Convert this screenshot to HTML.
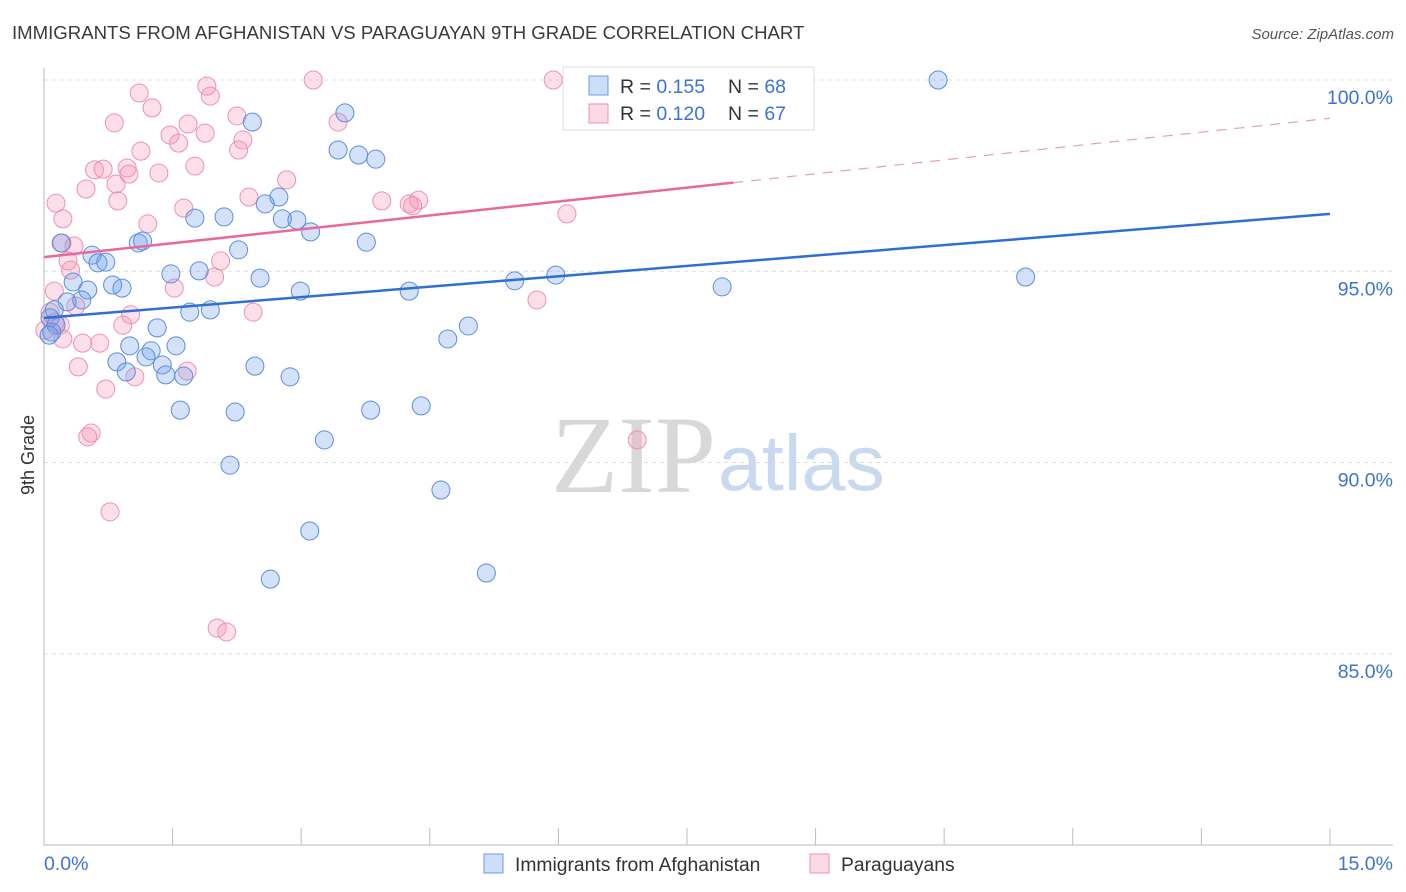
<!DOCTYPE html>
<html><head><meta charset="utf-8">
<style>
body{margin:0;background:#fff;font-family:"Liberation Sans",sans-serif;}
#wrap{position:relative;width:1406px;height:892px;overflow:hidden;}
</style></head>
<body>
<div id="wrap">
<svg id="svg" width="1406" height="892" xmlns="http://www.w3.org/2000/svg">
<text x="12" y="39" font-size="18.6" fill="#3a3a3a">IMMIGRANTS FROM AFGHANISTAN VS PARAGUAYAN 9TH GRADE CORRELATION CHART</text>
<text x="1394" y="39" font-size="15" fill="#555" font-style="italic" text-anchor="end">Source: ZipAtlas.com</text>
<text x="716" y="492" font-size="110" fill="#d8d8d8" font-family="Liberation Serif,serif" text-anchor="end">ZIP</text>
<text x="718" y="490" font-size="79" fill="#c9d9f0" text-anchor="start">atlas</text>
<g id="grid"></g>
<g id="axes"></g>
<g id="pts"></g>
<g id="trends"></g>
<text x="34" y="455" font-size="18" fill="#333" transform="rotate(-90 34 455)" text-anchor="middle">9th Grade</text>
<g>
<rect x="563" y="67" width="251" height="63" fill="#fff" stroke="#ddd"/>
<rect x="589" y="76" width="19" height="19" fill="rgba(110,160,235,0.35)" stroke="#6a9be0"/>
<text x="620" y="93" font-size="19.5" fill="#333">R = <tspan fill="#3b73d6">0.155</tspan></text>
<text x="728" y="93" font-size="19.5" fill="#333">N = <tspan fill="#3b73d6">68</tspan></text>
<rect x="589" y="104" width="19" height="19" fill="rgba(245,150,180,0.35)" stroke="#ec92b0"/>
<text x="620" y="120" font-size="19.5" fill="#333">R = <tspan fill="#3b73d6">0.120</tspan></text>
<text x="728" y="120" font-size="19.5" fill="#333">N = <tspan fill="#3b73d6">67</tspan></text>
</g>
<g>
<rect x="484" y="854" width="19" height="19" fill="rgba(110,160,235,0.35)" stroke="#6a9be0"/>
<text x="515" y="871" font-size="19.3" fill="#333">Immigrants from Afghanistan</text>
<rect x="810" y="854" width="19" height="19" fill="rgba(245,150,180,0.35)" stroke="#ec92b0"/>
<text x="841" y="871" font-size="19.3" fill="#333">Paraguayans</text>
</g>
</svg>
</div>
<script>
const blueX=[6.87,10.43,2.43,3.51,3.43,3.67,3.87,2.74,2.58,1.76,2.10,2.78,2.95,3.11,2.27,3.76,1.10,1.15,0.20,0.56,0.63,0.72,1.48,1.81,2.52,5.49,5.97,11.45,7.91,4.26,2.99,0.80,0.91,0.34,0.51,0.27,0.44,0.12,0.07,0.14,0.09,1.70,1.94,1.32,1.00,1.54,4.95,4.71,1.25,1.19,1.38,0.85,0.96,1.42,1.63,2.46,2.87,1.59,2.23,3.81,4.40,3.27,2.17,4.63,3.10,2.64,5.16,0.06];
const blueY=[100,100,98.90,99.14,98.17,98.04,97.93,96.94,96.76,96.39,96.42,96.37,96.34,96.03,95.56,95.76,95.74,95.79,95.74,95.42,95.22,95.24,94.93,95.01,94.82,94.75,94.90,94.85,94.59,94.48,94.48,94.64,94.56,94.72,94.51,94.20,94.25,93.99,93.78,93.59,93.41,93.93,93.99,93.52,93.05,93.05,93.57,93.23,92.92,92.76,92.55,92.63,92.37,92.29,92.26,92.52,92.24,91.37,91.32,91.37,91.48,90.59,89.93,89.28,88.21,86.95,87.11,93.33];
const pinkX=[3.14,5.94,1.90,1.94,1.11,1.26,0.82,1.68,2.25,3.43,1.88,1.47,1.57,2.32,2.27,1.13,1.76,1.34,0.59,0.69,0.97,0.99,2.83,0.84,0.49,2.39,0.86,3.94,4.37,4.26,4.30,0.14,1.63,0.22,1.21,6.10,0.21,0.35,0.28,0.31,2.06,1.99,1.52,0.12,0.37,5.75,2.44,1.01,0.92,0.22,0.45,0.65,0.40,1.06,1.67,0.72,0.55,0.51,6.92,0.77,2.02,2.13,0.07,0.13,0.01,0.19];
const pinkY=[100,100,99.84,99.58,99.66,99.27,98.88,98.85,99.06,98.90,98.61,98.56,98.35,98.43,98.17,98.14,97.75,97.57,97.65,97.67,97.70,97.54,97.39,97.28,97.15,96.94,96.84,96.84,96.86,96.76,96.71,96.78,96.65,96.37,96.24,96.50,95.74,95.66,95.27,95.03,95.27,94.85,94.56,94.48,94.09,94.25,93.93,93.86,93.59,93.23,93.12,93.12,92.50,92.24,92.39,91.92,90.77,90.67,90.59,88.71,85.67,85.57,93.93,93.67,93.46,93.59];
const yTicks=[100,95,90,85];
const yTickLabels=["100.0%","95.0%","90.0%","85.0%"];
const blueTrend=[93.78,96.50];
const pinkTrend=[95.37,99.0];
const pinkSolidEnd=8.04;
const NS="http://www.w3.org/2000/svg";
const xs=v=>44+v*85.73;
const ys=v=>80+(100-v)*38.25;
function mk(tag,attrs,parent){const e=document.createElementNS(NS,tag);for(const k in attrs)e.setAttribute(k,attrs[k]);document.getElementById(parent).appendChild(e);return e;}
yTicks.forEach((t,i)=>{
  const l=mk('line',{x1:44,x2:1393,y1:ys(t),y2:ys(t),stroke:'#ddd','stroke-dasharray':'4,4'},'grid');
  
  
  const tx=mk('text',{x:1393,y:ys(t)+24,'font-size':19.5,fill:'#3b73d6','text-anchor':'end'},'grid');
  tx.textContent=yTickLabels[i];
  
  
});
const ax=mk('line',{x1:44,x2:44,y1:68,y2:845,stroke:'#bbb'},'axes');


const bx=mk('line',{x1:44,x2:1393,y1:845,y2:845,stroke:'#bbb'},'axes');


for(let i=1;i<=10;i++){const t=mk('line',{x1:xs(i*1.5),x2:xs(i*1.5),y1:828,y2:845,stroke:'#bbb'},'axes');
  
  }
const x0=mk('text',{x:44,y:870,'font-size':19.5,fill:'#3b73d6'},'axes');x0.textContent='0.0%';


const x1=mk('text',{x:1393,y:870,'font-size':19.5,fill:'#3b73d6','text-anchor':'end'},'axes');x1.textContent='15.0%';


function pts(X,Y,fill,stroke,name){X.forEach((x,i)=>{const c=mk('circle',{cx:xs(x),cy:ys(Y[i]),r:9,fill:fill,stroke:stroke,'stroke-width':1},'pts');
  
  });}
pts(pinkX,pinkY,'rgba(245,150,180,0.3)','#ec92b0','paraguayan-point');
pts(blueX,blueY,'rgba(110,160,235,0.3)','#5b8de0','afghanistan-point');
const bl=mk('line',{x1:xs(0),y1:ys(blueTrend[0]),x2:xs(15),y2:ys(blueTrend[1]),stroke:'#2f6fd3','stroke-width':2.5},'trends');


const pm=pinkTrend[0]+(pinkTrend[1]-pinkTrend[0])*pinkSolidEnd/15;
const pl=mk('line',{x1:xs(0),y1:ys(pinkTrend[0]),x2:xs(pinkSolidEnd),y2:ys(pm),stroke:'#e8699a','stroke-width':2.5},'trends');


const pd=mk('line',{x1:xs(pinkSolidEnd),y1:ys(pm),x2:xs(15),y2:ys(pinkTrend[1]),stroke:'#e3a0b8','stroke-width':1.2,'stroke-dasharray':'10,8'},'trends');


</script>
</body></html>
